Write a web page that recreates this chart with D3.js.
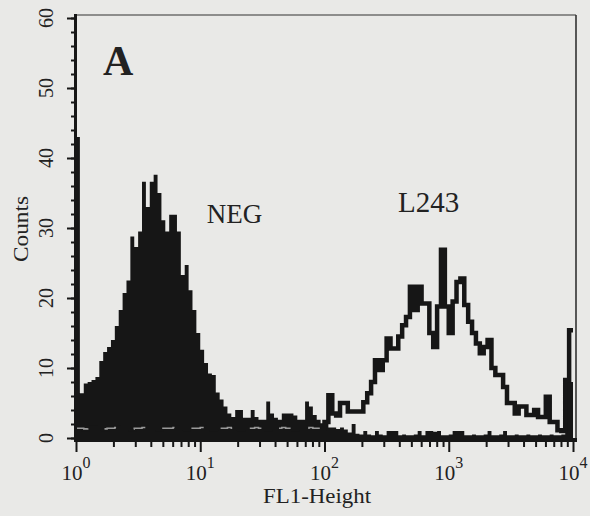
<!DOCTYPE html>
<html>
<head>
<meta charset="utf-8">
<script src="https://cdn.jsdelivr.net/npm/d3@7"></script>
<style>
  body { margin: 0; background: #e9e9e7; }
  svg { display: block; }
  text { font-family: "Liberation Serif", "DejaVu Serif", serif; fill: #222; }
</style>
</head>
<body>
<div id="chart"></div>
<script>
// counts per channel, 128 channels over 4 decades
var negCounts = [
  43, 6.4, 7.8, 8, 8.3, 8.7, 11, 12.3, 13, 14,
  16, 18.3, 20.7, 22.5, 28.8, 27.3, 29.5, 36.6, 33, 36.6,
  37.6, 35, 31.1, 29.5, 31.9, 31.9, 29.5, 23.3, 24.7, 21.1,
  18.3, 15, 12.6, 10.7, 9.2, 9, 6.5, 5.5, 4.5, 3.5,
  3, 4, 4, 2.9, 2.9, 4, 3, 2.6, 2.6, 5.2,
  3.5, 2.9, 2.6, 3.5, 3.5, 3.5, 3.2, 2.6, 2.6, 5.2,
  4.5, 3.3, 2.6, 2.1, 2, 1.5, 1.5, 1.3, 1.5, 1.2,
  0.8, 2, 0.6, 0.5, 1, 0.5, 0.4, 1, 0.5, 0.4,
  1, 1, 1, 0.4, 0.5, 0.4, 0.4, 0.5, 1, 0.4,
  1, 1, 0.9, 1, 0.4, 0.4, 0.5, 1, 1, 1,
  0.4, 0.4, 0.5, 0.4, 0.4, 0.5, 1, 0.4, 0.4, 0.5,
  1, 0.4, 0.4, 0.5, 0.4, 0.4, 0.5, 0.4, 0.4, 0.5,
  0.4, 0.4, 0.5, 0.4, 0.4, 0.5, 8, 8
];

var l243Counts = [
  1.4, 1.4, 1.3, 1.4, 1.5, 1.4, 1.4, 1.3, 1.4, 1.4,
  1.5, 1.4, 1.4, 1.4, 1.3, 1.4, 1.4, 1.5, 1.4, 1.4,
  1.4, 1.3, 1.4, 1.4, 1.4, 1.5, 1.4, 1.4, 1.3, 1.4,
  1.4, 1.4, 1.5, 1.4, 1.4, 1.3, 1.4, 1.4, 1.4, 1.5,
  1.4, 1.4, 1.3, 1.4, 1.4, 1.4, 1.5, 1.4, 1.4, 1.3,
  1.4, 1.4, 1.4, 1.5, 1.4, 1.4, 1.3, 1.4, 1.4, 1.4,
  1.5, 1.4, 1.4, 1.4, 2.3, 6.1, 3.5, 3.2, 5, 5,
  3.8, 3.8, 3.8, 3.8, 5.1, 6.4, 8, 11.1, 9.7, 11.1,
  14.2, 12.8, 12.8, 14.5, 16.1, 17.3, 21.6, 18.3, 21.6, 19.2,
  19.2, 15, 13, 18.8, 26.9, 18.8, 15, 19.5, 22.3, 22.8,
  19, 16.6, 15, 13.5, 12.1, 13, 14, 10, 9, 9,
  7.3, 5, 5, 3.5, 4.5, 4.5, 3.3, 3.3, 4, 3,
  3, 5.9, 2.3, 2.3, 1.1, 1, 8.3, 15.4
];

var yMajor = [0, 10, 20, 30, 40, 50, 60];
var xDecades = [0, 1, 2, 3, 4];
var xLabel = "FL1-Height";
var yLabel = "Counts";
var panelLabel = "A";
var seriesLabels = [
  {text: "NEG", value: 11.3, count: 30.7, size: 27},
  {text: "L243", value: 390, count: 32.3, size: 29}
];

window.onload = function(){
  drawHistogram();
};

function drawHistogram(){
  var outerWidth = 590,
      outerHeight = 516,
      ink = "#161616";

  var x = d3.scaleLog()
      .domain([1, 1e4])
      .range([76, 573]);

  var y = d3.scaleLinear()
      .domain([0, 60])
      .range([438, 18]);

  var svg = d3.select("#chart").append("svg")
      .attr("width", outerWidth)
      .attr("height", outerHeight);

  var nBins = negCounts.length;
  function edge(i){ return Math.pow(10, 4 * i / nBins); }
  function steps(counts){
    var pts = counts.map(function(c, i){ return [edge(i), c]; });
    pts.push([edge(counts.length), counts[counts.length - 1]]);
    return pts;
  }

  // frame top + right
  svg.append("line")
      .attr("x1", x(1) - 1).attr("x2", x(1e4) + 3)
      .attr("y1", y(60) - 3).attr("y2", y(60) - 3)
      .attr("stroke", "#6e6e6e").attr("stroke-width", 1.5);
  svg.append("line")
      .attr("x1", x(1e4) + 3).attr("x2", x(1e4) + 3)
      .attr("y1", y(60) - 3).attr("y2", y(0) + 2)
      .attr("stroke", "#333").attr("stroke-width", 1.6);

  // NEG, filled
  var area = d3.area()
      .x(function(d){ return x(d[0]); })
      .y0(y(0) + 2)
      .y1(function(d){ return y(d[1]); })
      .curve(d3.curveStepAfter);

  svg.append("path")
      .datum(steps(negCounts))
      .attr("d", area)
      .attr("fill", ink);

  // L243, outline
  var line = d3.line()
      .x(function(d){ return x(d[0]); })
      .y(function(d){ return y(d[1]); })
      .curve(d3.curveStepAfter);

  svg.append("path")
      .datum(steps(l243Counts))
      .attr("d", line)
      .attr("fill", "none")
      .attr("stroke", ink)
      .attr("stroke-width", 4.5);

  // where L243 runs inside the black fill it shows up light and broken
  svg.append("path")
      .datum(steps(l243Counts.slice(0, 64)))
      .attr("d", line)
      .attr("fill", "none")
      .attr("stroke", "#9a9a9a")
      .attr("stroke-width", 1.6)
      .attr("stroke-dasharray", "13,19");

  // y axis
  var yAxisMinor = d3.axisLeft(y)
      .tickValues(d3.range(0, 61, 2))
      .tickSize(4)
      .tickFormat("");
  var yAxisMajor = d3.axisLeft(y)
      .tickValues(yMajor)
      .tickSize(8)
      .tickFormat("");

  [yAxisMinor, yAxisMajor].forEach(function(ax){
    var g = svg.append("g")
        .attr("transform", "translate(" + (x(1) - 1) + ",0)")
        .call(ax);
    g.select(".domain").remove();
    g.selectAll("line").attr("stroke", ink).attr("stroke-width", 2);
  });

  svg.append("line")
      .attr("x1", x(1) - 0.5).attr("x2", x(1) - 0.5)
      .attr("y1", y(60) - 4).attr("y2", y(0) + 4)
      .attr("stroke", ink).attr("stroke-width", 3);

  svg.selectAll("text.ytick")
      .data(yMajor)
    .enter().append("text")
      .attr("class", "ytick")
      .attr("transform", function(d){ return "translate(53," + y(d) + ") rotate(-90)"; })
      .attr("text-anchor", "middle")
      .attr("font-size", 20)
      .text(function(d){ return d; });

  svg.append("text")
      .attr("transform", "translate(28,229) rotate(-90)")
      .attr("text-anchor", "middle")
      .attr("font-size", 21)
      .attr("textLength", 66)
      .attr("lengthAdjust", "spacingAndGlyphs")
      .text(yLabel);

  // x axis
  var minorX = [];
  xDecades.slice(0, 4).forEach(function(d){
    for (var k = 2; k < 10; k++) minorX.push(k * Math.pow(10, d));
  });

  var xAxisMinor = d3.axisBottom(x)
      .tickValues(minorX)
      .tickSize(7)
      .tickFormat("");
  var xAxisMajor = d3.axisBottom(x)
      .tickValues(xDecades.map(function(d){ return Math.pow(10, d); }))
      .tickSize(12)
      .tickFormat("");

  [xAxisMinor, xAxisMajor].forEach(function(ax){
    var g = svg.append("g")
        .attr("transform", "translate(0," + (y(0) + 2) + ")")
        .call(ax);
    g.select(".domain").remove();
    g.selectAll("line").attr("stroke", ink).attr("stroke-width", 2);
  });

  svg.append("line")
      .attr("x1", x(1) - 2).attr("x2", x(1e4) + 4)
      .attr("y1", y(0) + 2).attr("y2", y(0) + 2)
      .attr("stroke", ink).attr("stroke-width", 4);

  var xt = svg.selectAll("text.xtick")
      .data(xDecades)
    .enter().append("text")
      .attr("class", "xtick")
      .attr("x", function(d){ return x(Math.pow(10, d)); })
      .attr("y", 480)
      .attr("text-anchor", "middle")
      .attr("font-size", 21);
  xt.append("tspan").text("10");
  xt.append("tspan")
      .attr("dy", -12)
      .attr("font-size", 16)
      .text(function(d){ return d; });

  svg.append("text")
      .attr("x", 317)
      .attr("y", 503)
      .attr("text-anchor", "middle")
      .attr("font-size", 20)
      .attr("textLength", 108)
      .attr("lengthAdjust", "spacingAndGlyphs")
      .text(xLabel);

  // labels inside the plot
  svg.append("text")
      .attr("x", 103)
      .attr("y", 75)
      .attr("font-size", 42)
      .attr("font-weight", "bold")
      .attr("fill", ink)
      .text(panelLabel);

  svg.selectAll("text.series")
      .data(seriesLabels)
    .enter().append("text")
      .attr("class", "series")
      .attr("x", function(d){ return x(d.value); })
      .attr("y", function(d){ return y(d.count); })
      .attr("font-size", function(d){ return d.size; })
      .text(function(d){ return d.text; });
}
</script>
</body>
</html>
